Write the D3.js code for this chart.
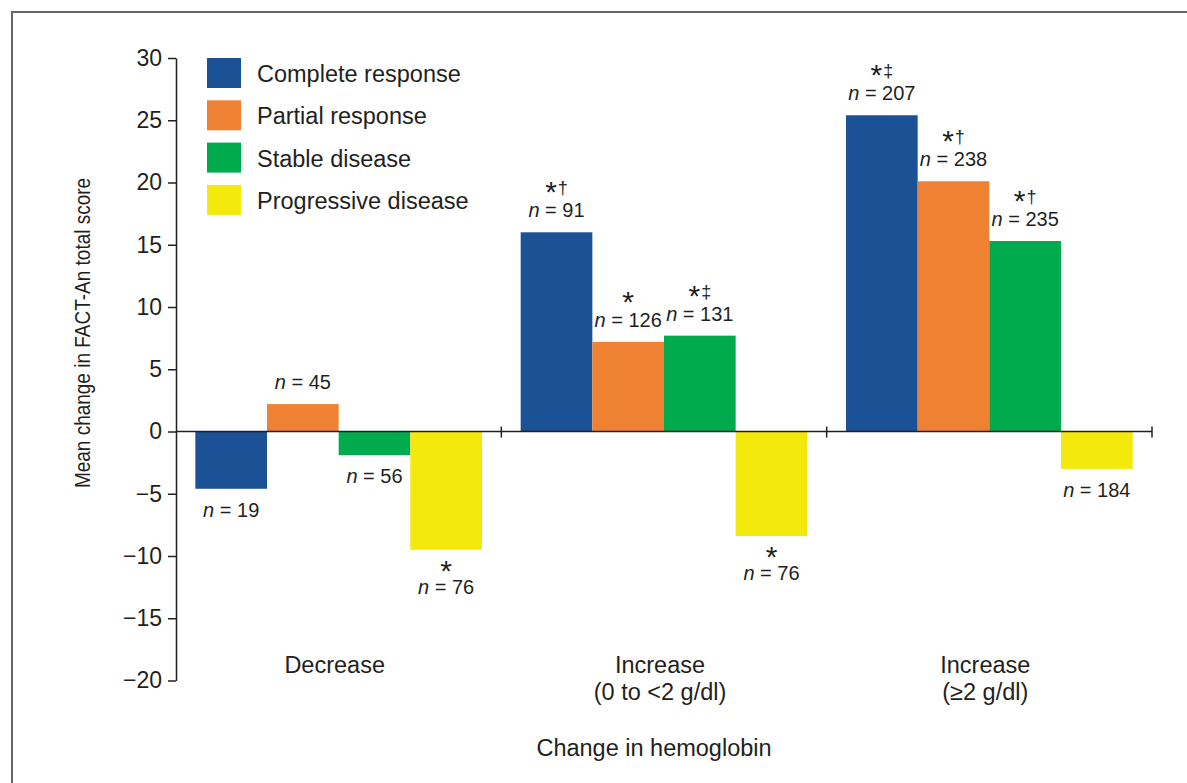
<!DOCTYPE html>
<html>
<head>
<meta charset="utf-8">
<script src="https://cdn.jsdelivr.net/npm/d3@7"></script>
<style>
  html, body { margin: 0; padding: 0; background: #fff; }
  #chart { width: 1187px; height: 783px; }
  text { font-family: "Liberation Sans", Arial, Helvetica, sans-serif; fill: #231f20; }
</style>
</head>
<body>
<div id="chart"></div>
<script>
const grupos = ["Decrease", "Increase (0 to <2 g/dl)", "Increase (≥2 g/dl)"];
const gruposLineas = [["Decrease"], ["Increase", "(0 to <2 g/dl)"], ["Increase", "(≥2 g/dl)"]];
const series = ["Complete response", "Partial response", "Stable disease", "Progressive disease"];
const colores = ["#1b5195", "#ef8133", "#00ab4e", "#f4e90c"];

// mean change per group, one array per response category
const completa = [-4.6, 16.0, 25.4];
const parcial = [2.2, 7.2, 20.1];
const estable = [-1.9, 7.7, 15.3];
const progresiva = [-9.5, -8.4, -3.0];

const nCompleta = [19, 91, 207];
const nParcial = [45, 126, 238];
const nEstable = [56, 131, 235];
const nProgresiva = [76, 76, 184];

const marcasCompleta = ["", "*†", "*‡"];
const marcasParcial = ["", "*", "*†"];
const marcasEstable = ["", "*‡", "*†"];
const marcasProgresiva = ["*", "*", ""];

const yTicks = [-20, -15, -10, -5, 0, 5, 10, 15, 20, 25, 30];

const valores = [completa, parcial, estable, progresiva];
const ns = [nCompleta, nParcial, nEstable, nProgresiva];
const marcas = [marcasCompleta, marcasParcial, marcasEstable, marcasProgresiva];

const datos = [];
grupos.forEach((g, gi) => {
  series.forEach((s, si) => {
    datos.push({ grupo: g, serie: s, valor: valores[si][gi], n: ns[si][gi], marca: marcas[si][gi], color: colores[si] });
  });
});

const width = 1187, height = 783;
const svg = d3.select("#chart").append("svg").attr("width", width).attr("height", height);

// frame
svg.append("path").attr("d", `M12,${height} V12 H${width}`).attr("fill", "none").attr("stroke", "#666").attr("stroke-width", 2);

const x0 = d3.scaleBand().domain(grupos).range([176, 1152]).padding(0);
const x1 = d3.scaleBand().domain(series).range([0, x0.bandwidth()]).paddingInner(0).paddingOuter(0.27);
const y = d3.scaleLinear().domain([-20, 30]).range([680.5, 58]);

// bars
svg.selectAll("rect.barra").data(datos).join("rect").attr("class", "barra")
  .attr("x", (d) => x0(d.grupo) + x1(d.serie))
  .attr("width", x1.bandwidth())
  .attr("y", (d) => y(Math.max(0, d.valor)))
  .attr("height", (d) => Math.abs(y(d.valor) - y(0)))
  .attr("fill", (d) => d.color);

// y axis
const ejeY = svg.append("g").attr("transform", "translate(176,0)")
  .call(d3.axisLeft(y).tickValues(yTicks).tickSize(8).tickSizeOuter(0).tickPadding(6));
ejeY.selectAll("path, line").attr("stroke", "#231f20").attr("stroke-width", 1.5);
ejeY.selectAll("text").attr("font-size", 23).attr("fill", "#231f20").style("font-family", '"Liberation Sans", Arial, sans-serif');

// x axis (zero line with group separators)
const y0 = y(0);
svg.append("line").attr("x1", 176).attr("x2", 1152).attr("y1", y0).attr("y2", y0).attr("stroke", "#231f20").attr("stroke-width", 1.5);
svg.selectAll("line.sep").data(grupos).join("line").attr("class", "sep")
  .attr("x1", (d) => x0(d) + x0.bandwidth()).attr("x2", (d) => x0(d) + x0.bandwidth())
  .attr("y1", y0 - 5).attr("y2", y0 + 6)
  .attr("stroke", "#231f20").attr("stroke-width", 1.5);

// n labels and significance marks
const etiquetas = svg.selectAll("g.etiqueta").data(datos).join("g").attr("class", "etiqueta")
  .attr("transform", (d) => `translate(${x0(d.grupo) + x1(d.serie) + x1.bandwidth() / 2},0)`);

etiquetas.each(function (d) {
  const g = d3.select(this);
  let nBase, marcaCentro;
  if (d.valor >= 0) {
    nBase = y(d.valor) - 15;
    marcaCentro = nBase - 28;
  } else {
    if (d.marca) {
      marcaCentro = y(d.valor) + 18;
      nBase = marcaCentro + 26;
    } else {
      nBase = y(d.valor) + 28;
    }
  }
  const t = g.append("text").attr("y", nBase).attr("text-anchor", "middle").attr("font-size", 20);
  t.append("tspan").attr("font-style", "italic").text("n");
  t.append("tspan").text(` = ${d.n}`);
  if (d.marca) {
    const m = g.append("text").attr("y", marcaCentro + 13).attr("text-anchor", "middle");
    m.append("tspan").attr("font-size", 30).text(d.marca[0]);
    if (d.marca.length > 1) {
      m.append("tspan").attr("font-size", 18).attr("dy", -8).attr("dx", 1).text(d.marca.slice(1));
    }
  }
});

// category labels
svg.selectAll("text.grupo").data(grupos).join("text").attr("class", "grupo")
  .attr("y", 673)
  .attr("text-anchor", "middle").attr("font-size", 23.5)
  .each(function (d, i) {
    d3.select(this).selectAll("tspan").data(gruposLineas[i]).join("tspan")
      .attr("x", x0(d) + x0.bandwidth() / 2 - 4)
      .attr("dy", (l, j) => (j === 0 ? 0 : 27))
      .text((l) => l);
  });

// axis titles
svg.append("text").attr("x", 654).attr("y", 756).attr("text-anchor", "middle").attr("font-size", 23.5).text("Change in hemoglobin");
svg.append("text").attr("transform", "translate(90,333) rotate(-90) scale(1,1.12)").attr("text-anchor", "middle").attr("font-size", 19).text("Mean change in FACT-An total score");

// legend
const leyenda = svg.selectAll("g.leyenda").data(series).join("g").attr("class", "leyenda")
  .attr("transform", (d, i) => `translate(207,${58 + i * 42.3})`);
leyenda.append("rect").attr("width", 34).attr("height", 30).attr("fill", (d, i) => colores[i]);
leyenda.append("text").attr("x", 50).attr("y", 24).attr("font-size", 23.5).text((d) => d);
</script>
</body>
</html>
